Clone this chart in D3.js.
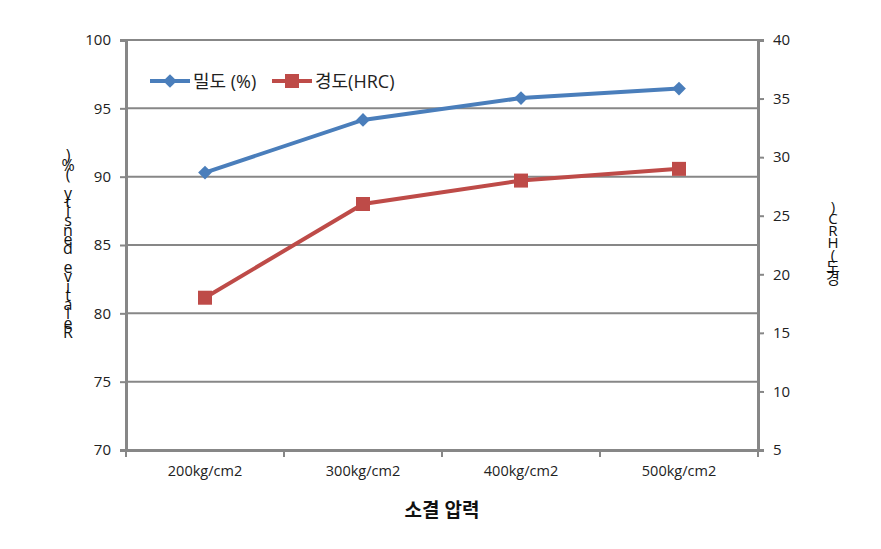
<!DOCTYPE html>
<html><head><meta charset="utf-8">
<script src="https://cdn.jsdelivr.net/npm/d3@7"></script>
<style>body{margin:0;background:#fff}svg{display:block}text{font-family:"Open Sans","Noto Sans CJK KR",sans-serif}</style>
</head><body>
<svg id="c" width="881" height="549"></svg>
<script>
const categories = ["200kg/cm2","300kg/cm2","400kg/cm2","500kg/cm2"];
const densityValues = [90.3, 94.15, 95.75, 96.45];
const hardnessValues = [18, 26, 28, 29];
const leftTicks = [70,75,80,85,90,95,100];
const rightTicks = [5,10,15,20,25,30,35,40];
const seriesNames = ["밀도 (%)", "경도(HRC)"];
const xTitle = "소결 압력";
const leftTitle = "Relative density (%)";
const rightTitle = "경도(HRC)";

const svg = d3.select("#c");
const L = 126, R = 758, T = 40, B = 450;
const gray = "#878787";
const blue = "#4A7EBB", red = "#BE4B48";

const x = d3.scaleBand().domain(categories).range([L, R]);
const yL = d3.scaleLinear().domain([70,100]).range([B, T]);
const yR = d3.scaleLinear().domain([5,40]).range([B, T]);

// gridlines
svg.append("g").selectAll("line").data(leftTicks).join("line")
  .attr("x1", L).attr("x2", R).attr("y1", d=>yL(d)).attr("y2", d=>yL(d))
  .attr("stroke", gray).attr("stroke-width", 2);

// left axis
const gl = svg.append("g").attr("transform", `translate(${L},0)`)
  .call(d3.axisLeft(yL).tickValues(leftTicks).tickSize(6).tickPadding(9));
gl.select(".domain").attr("stroke", gray).attr("stroke-width", 3);
gl.selectAll(".tick line").attr("stroke", gray).attr("stroke-width", 2);
gl.selectAll(".tick text").attr("font-size", 15).attr("fill", "#222");

// right axis
const gr = svg.append("g").attr("transform", `translate(${R},0)`)
  .call(d3.axisRight(yR).tickValues(rightTicks).tickSize(6).tickPadding(9));
gr.select(".domain").attr("stroke", gray).attr("stroke-width", 3);
gr.selectAll(".tick line").attr("stroke", gray).attr("stroke-width", 2);
gr.selectAll(".tick text").attr("font-size", 15).attr("fill", "#222");

// x axis
const gx = svg.append("g").attr("transform", `translate(0,${B})`)
  .call(d3.axisBottom(x).tickSize(0).tickPadding(16));
gx.select(".domain").attr("stroke", gray).attr("stroke-width", 3);
gx.selectAll(".tick text").attr("font-size", 14.5).attr("fill", "#222");
svg.append("g").selectAll("line").data(d3.range(categories.length+1)).join("line")
  .attr("x1", i=>L + i*x.step()).attr("x2", i=>L + i*x.step())
  .attr("y1", B).attr("y2", B+7).attr("stroke", gray).attr("stroke-width", 2);

// lines
const cx = d => x(d) + x.bandwidth()/2;
const lineL = d3.line().x((d,i)=>cx(categories[i])).y(d=>yL(d));
const lineR = d3.line().x((d,i)=>cx(categories[i])).y(d=>yR(d));
svg.append("path").datum(hardnessValues).attr("d", lineR).attr("fill","none").attr("stroke", red).attr("stroke-width", 4);
svg.selectAll(".sq").data(hardnessValues).join("rect")
  .attr("x", (d,i)=>cx(categories[i])-7).attr("y", d=>yR(d)-7)
  .attr("width", 14).attr("height", 14).attr("fill", red);
svg.append("path").datum(densityValues).attr("d", lineL).attr("fill","none").attr("stroke", blue).attr("stroke-width", 4);
const dia = d3.symbol().type(d3.symbolDiamond2).size(120);
svg.selectAll(".dm").data(densityValues).join("path")
  .attr("d", dia).attr("transform", (d,i)=>`translate(${cx(categories[i])},${yL(d)})`)
  .attr("fill", blue);

// legend
const lg = svg.append("g");
lg.append("line").attr("x1",150).attr("x2",190).attr("y1",81).attr("y2",81).attr("stroke",blue).attr("stroke-width",4);
lg.append("path").attr("d", dia).attr("transform","translate(170,81)").attr("fill",blue);
lg.append("text").attr("x",193).attr("y",88).attr("font-size",18).attr("fill","#222").text(seriesNames[0]);
lg.append("line").attr("x1",272).attr("x2",312).attr("y1",81).attr("y2",81).attr("stroke",red).attr("stroke-width",4);
lg.append("rect").attr("x",285).attr("y",74).attr("width",14).attr("height",14).attr("fill",red);
lg.append("text").attr("x",315).attr("y",88).attr("font-size",18).attr("fill","#222").text(seriesNames[1]);

// x title
svg.append("text").attr("x", 442).attr("y", 517).attr("text-anchor","middle")
  .attr("font-size", 19).attr("font-weight","bold").attr("fill","#111").text(xTitle);

// stacked vertical titles (characters upright, read bottom to top)
function stacked(str, xc, yBottom, step, size){
  const chars = Array.from(str);
  const g = svg.append("g");
  g.selectAll("text").data(chars).join("text")
    .attr("x", xc).attr("y", (d,i)=>yBottom - i*step)
    .attr("text-anchor","middle").attr("font-size", size).attr("fill","#111").text(d=>d);
}
stacked(leftTitle, 68, 338, 9.3, 16);
stacked(rightTitle, 833, 284, 12, 15);
</script>
</body></html>
